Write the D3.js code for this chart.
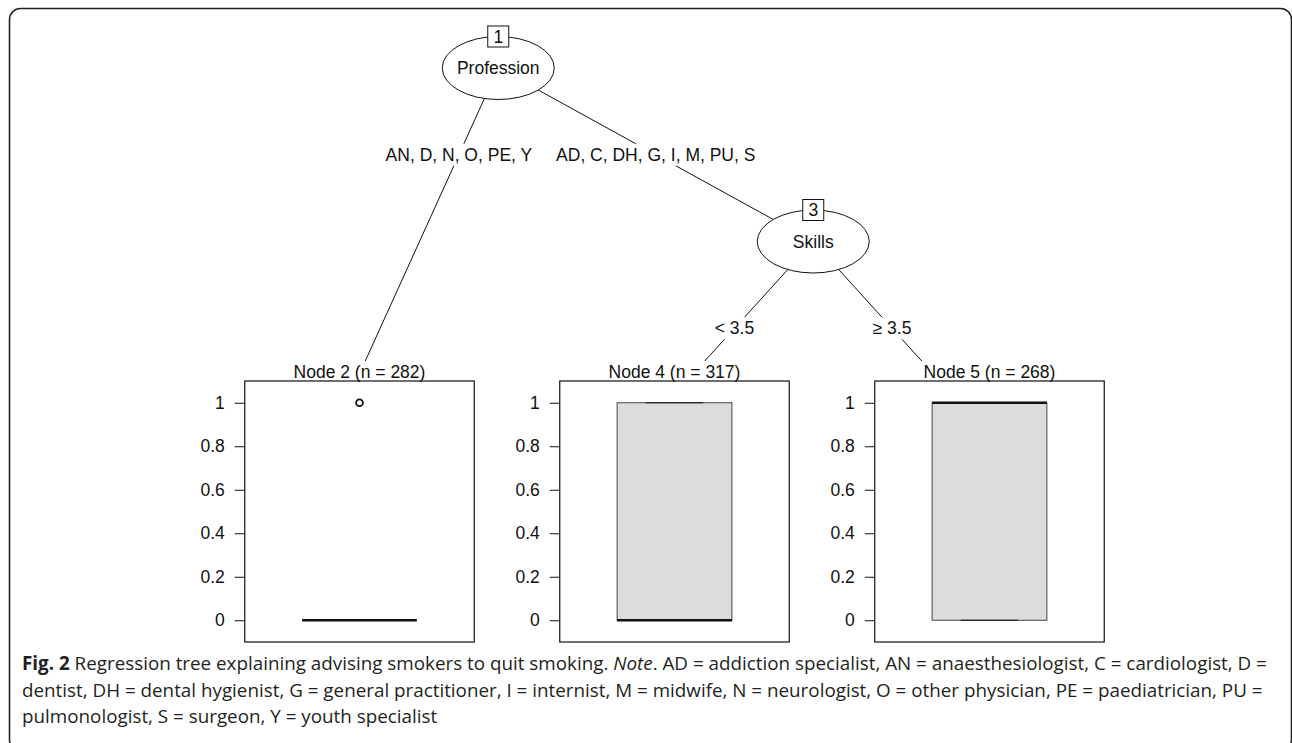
<!DOCTYPE html>
<html>
<head>
<meta charset="utf-8">
<script src="https://cdn.jsdelivr.net/npm/d3@7"></script>
<style>
  html, body { margin: 0; padding: 0; background: #fff; }
  svg { display: block; }
  .tree text { font-family: "Liberation Sans", Arial, Helvetica, sans-serif; fill: #111; }
  .caption { font-family: "Open Sans", "Noto Sans", sans-serif; fill: #231f20; }
</style>
</head>
<body>
<svg id="chart" width="1292" height="743"></svg>
<script>
// ---- Tree structure -------------------------------------------------------
const innerIds = [1, 3];
const innerLabels = ["Profession", "Skills"];
const innerDepth = [0, 1];
const innerSlot = [1, 2];          // split position, in terminal-node units

const terminalIds = [2, 4, 5];
const terminalN = [282, 317, 268];
const terminalSlot = [0.5, 1.5, 2.5];

const edgeFrom = [1, 1, 3, 3];
const edgeTo = [2, 3, 4, 5];
const edgeLabels = ["AN, D, N, O, PE, Y", "AD, C, DH, G, I, M, PU, S", "< 3.5", "\u2265 3.5"];

// ---- Box-plot summaries of the response in each terminal node -------------
const boxLower = [0, 0, 0];
const boxMedian = [0, 0, 1];
const boxUpper = [0, 1, 1];
const whiskerLow = [0, 0, 0];
const whiskerHigh = [0, 1, 1];
const outlierValues = [[1], [], []];
const yTicks = [0, 0.2, 0.4, 0.6, 0.8, 1];

// ---- Caption ---------------------------------------------------------------
const captionLines = [
  [["Fig. 2", "bold"], [" Regression tree explaining advising smokers to quit smoking. ", "normal"], ["Note", "italic"],
   [". AD = addiction specialist, AN = anaesthesiologist, C = cardiologist, D =", "normal"]],
  [["dentist, DH = dental hygienist, G = general practitioner, I = internist, M = midwife, N = neurologist, O = other physician, PE = paediatrician, PU =", "normal"]],
  [["pulmonologist, S = surgeon, Y = youth specialist", "normal"]]
];

const svg = d3.select("#chart");

// Outer rounded frame
svg.append("rect")
  .attr("x", 9.5).attr("y", 8.5)
  .attr("width", 1282).attr("height", 742)
  .attr("rx", 11).attr("ry", 11)
  .attr("fill", "none").attr("stroke", "#222").attr("stroke-width", 1.6);

const g = svg.append("g").attr("class", "tree");

// ---- Layout scales ---------------------------------------------------------
const xNode = d3.scaleLinear().domain([0.5, 2.5]).range([340.75, 970.75]);   // node anchors
const xPanel = d3.scaleLinear().domain([0.5, 2.5]).range([359.5, 989.5]);    // plotting regions
const yLevel = d3.scaleLinear().domain([0, 2]).range([68, 415]);
const yBox = d3.scaleLinear().domain([-0.1, 1.1]).range([642, 381]);
const panelW = 229.5;
const rx = 56, ry = 31.5;
const fs = 17.5;

const pos = {};
innerIds.forEach((id, i) => { pos[id] = { x: xNode(innerSlot[i]), y: yLevel(innerDepth[i]), depth: innerDepth[i] }; });
terminalIds.forEach((id, i) => { pos[id] = { x: xNode(terminalSlot[i]), y: yLevel(2), depth: 2 }; });

// ---- Edges -----------------------------------------------------------------
edgeFrom.forEach((from, i) => {
  const a = pos[from], b = pos[edgeTo[i]];
  g.append("line")
    .attr("x1", a.x).attr("y1", a.y).attr("x2", b.x).attr("y2", b.y)
    .attr("stroke", "#111").attr("stroke-width", 1);
});

// White viewports of the terminal nodes hide the ends of the edges
terminalIds.forEach((id, i) => {
  const cx = xPanel(terminalSlot[i]);
  g.append("rect")
    .attr("x", cx - 170).attr("y", 361)
    .attr("width", 300).attr("height", 290)
    .attr("fill", "#fff");
});

// ---- Edge labels -----------------------------------------------------------
edgeFrom.forEach((from, i) => {
  const a = pos[from], b = pos[edgeTo[i]];
  const ly = yLevel(a.depth + 0.5);
  const t = (ly - a.y) / (b.y - a.y);
  const lx = a.x + (b.x - a.x) * t;
  const lg = g.append("g");
  const txt = lg.append("text")
    .attr("x", lx).attr("y", ly).attr("dy", "0.35em")
    .attr("text-anchor", "middle")
    .style("font-size", fs + "px")
    .text(edgeLabels[i]);
  const w = txt.node().getComputedTextLength();
  lg.insert("rect", "text")
    .attr("x", lx - w / 2 - 1).attr("y", ly - 11)
    .attr("width", w + 2).attr("height", 22)
    .attr("fill", "#fff");
});

// ---- Inner nodes -----------------------------------------------------------
innerIds.forEach((id, i) => {
  const p = pos[id];
  g.append("ellipse")
    .attr("cx", p.x).attr("cy", p.y).attr("rx", rx).attr("ry", ry)
    .attr("fill", "#fff").attr("stroke", "#111").attr("stroke-width", 1);
  g.append("text")
    .attr("x", p.x).attr("y", p.y).attr("dy", "0.35em")
    .attr("text-anchor", "middle").style("font-size", fs + "px")
    .text(innerLabels[i]);
  g.append("rect")
    .attr("x", p.x - 10.5).attr("y", p.y - ry - 10.5)
    .attr("width", 21).attr("height", 21)
    .attr("fill", "#fff").attr("stroke", "#111").attr("stroke-width", 1);
  g.append("text")
    .attr("x", p.x).attr("y", p.y - ry).attr("dy", "0.36em")
    .attr("text-anchor", "middle").style("font-size", fs + "px")
    .text(id);
});

// ---- Terminal nodes: box plots ---------------------------------------------
terminalIds.forEach((id, i) => {
  const cx = xPanel(terminalSlot[i]);
  const left = cx - panelW / 2, right = cx + panelW / 2;
  const xIn = d3.scaleLinear().domain([0, 1]).range([left, right]);

  g.append("text")
    .attr("x", cx).attr("y", 378)
    .attr("text-anchor", "middle").style("font-size", fs + "px")
    .text(`Node ${id} (n = ${terminalN[i]})`);

  const ax = g.append("g")
    .attr("transform", `translate(${left},0)`)
    .call(d3.axisLeft(yBox).tickValues(yTicks).tickFormat(d3.format("~g"))
      .tickSizeInner(10).tickSizeOuter(0).tickPadding(10));
  ax.select(".domain").remove();
  ax.selectAll(".tick line").attr("stroke", "#111");
  ax.selectAll(".tick text")
    .style("font-family", "'Liberation Sans', Arial, Helvetica, sans-serif")
    .style("font-size", fs + "px").attr("fill", "#111");

  // box
  g.append("rect")
    .attr("x", xIn(0.25)).attr("y", yBox(boxUpper[i]))
    .attr("width", xIn(0.75) - xIn(0.25))
    .attr("height", yBox(boxLower[i]) - yBox(boxUpper[i]))
    .attr("fill", "#dcdcdc").attr("stroke", "#444").attr("stroke-width", 1);

  // whiskers
  [[boxUpper[i], whiskerHigh[i]], [boxLower[i], whiskerLow[i]]].forEach(([from, to]) => {
    g.append("line")
      .attr("x1", xIn(0.5)).attr("x2", xIn(0.5))
      .attr("y1", yBox(from)).attr("y2", yBox(to))
      .attr("stroke", "#111").attr("stroke-dasharray", "4,3");
    g.append("line")
      .attr("x1", xIn(0.375)).attr("x2", xIn(0.625))
      .attr("y1", yBox(to)).attr("y2", yBox(to))
      .attr("stroke", "#111").attr("stroke-width", 1.2);
  });

  // median
  g.append("line")
    .attr("x1", xIn(0.25)).attr("x2", xIn(0.75))
    .attr("y1", yBox(boxMedian[i])).attr("y2", yBox(boxMedian[i]))
    .attr("stroke", "#111").attr("stroke-width", 2.6);

  // outliers
  outlierValues[i].forEach(v => {
    g.append("circle")
      .attr("cx", xIn(0.5)).attr("cy", yBox(v)).attr("r", 3.4)
      .attr("fill", "none").attr("stroke", "#111").attr("stroke-width", 1.8);
  });

  // panel frame
  g.append("rect")
    .attr("x", left).attr("y", yBox(1.1))
    .attr("width", panelW).attr("height", yBox(-0.1) - yBox(1.1))
    .attr("fill", "none").attr("stroke", "#111").attr("stroke-width", 1.2);
});

// ---- Caption ---------------------------------------------------------------
const cap = svg.append("g").attr("class", "caption");
const capX = 22, capBase = [670, 696.5, 723];
const capTexts = captionLines.map((line, li) => {
  const t = cap.append("text").attr("x", capX).attr("y", capBase[li]).style("font-size", "16px");
  line.forEach(([s, style]) => {
    const sp = t.append("tspan").text(s);
    if (style === "bold") sp.attr("font-weight", "bold");
    if (style === "italic") sp.attr("font-style", "italic");
  });
  return t;
});
// size the caption so its first line spans the frame
const firstLen = capTexts[0].node().getComputedTextLength();
const capSize = 16 * 1246 / firstLen;
capTexts.forEach(t => t.style("font-size", capSize + "px"));
</script>
</body>
</html>
